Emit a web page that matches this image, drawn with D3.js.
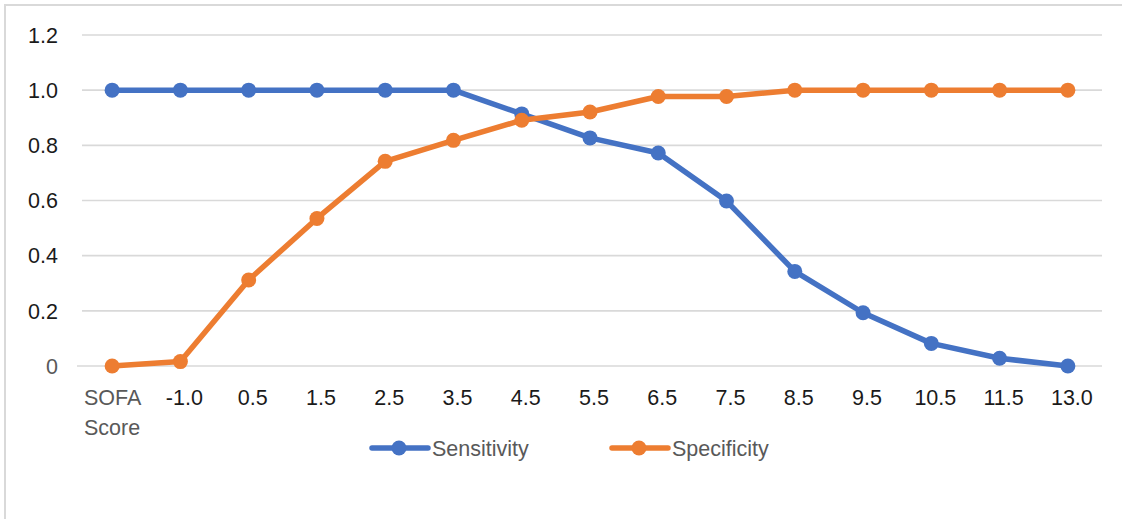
<!DOCTYPE html>
<html>
<head>
<meta charset="utf-8">
<script src="https://cdn.jsdelivr.net/npm/d3@7"></script>
<style>
html,body{margin:0;padding:0;background:#fff;}
svg{display:block;}
text{font-family:"Liberation Sans",Arial,sans-serif;}
</style>
</head>
<body>
<svg id="chart" width="1122" height="519"></svg>
<script>
const categories = ["SOFA Score","-1.0","0.5","1.5","2.5","3.5","4.5","5.5","6.5","7.5","8.5","9.5","10.5","11.5","13.0"];
const sensitivity = [1,1,1,1,1,1,0.914,0.827,0.772,0.598,0.343,0.193,0.082,0.028,0];
const specificity = [0,0.016,0.312,0.535,0.742,0.818,0.891,0.921,0.977,0.977,1,1,1,1,1];
const yTicks = [0,0.2,0.4,0.6,0.8,1.0,1.2];
const seriesNames = ["Sensitivity","Specificity"];
const colors = ["#4472C4","#ED7D31"];

const svg = d3.select("#chart");
const W = 1122, H = 519;

// outer border
svg.append("rect").attr("x",5).attr("y",5).attr("width",1140).attr("height",540)
  .attr("fill","none").attr("stroke","#d9d9d9").attr("stroke-width",2);

const x = d3.scaleBand().domain(categories).range([78,1102]).padding(0);
const y = d3.scaleLinear().domain([0,1.2]).range([366,35]);

// gridlines
svg.append("g").selectAll("line").data(yTicks.filter(d=>d>0)).join("line")
  .attr("x1",82).attr("x2",1102)
  .attr("y1",d=>y(d)).attr("y2",d=>y(d))
  .attr("stroke","#d9d9d9").attr("stroke-width",1.6);
// zero axis line
svg.append("line").attr("x1",77).attr("x2",1102).attr("y1",y(0)).attr("y2",y(0))
  .attr("stroke","#d9d9d9").attr("stroke-width",1.6);

// y labels
svg.append("g").selectAll("text").data(yTicks).join("text")
  .attr("x",58).attr("y",d=>y(d)+2)
  .attr("text-anchor","end").attr("dominant-baseline","middle")
  .attr("font-size",21.5)
  .attr("fill",d=>d===0?"#595959":"#1a1a1a")
  .text(d=>d===0?"0":d3.format(".1f")(d));

// x labels
const xl = svg.append("g");
categories.forEach((c,i)=>{
  const cx = x(c)+x.bandwidth()/2;
  if(i===0){
    const t = xl.append("text").attr("x",84).attr("y",399)
      .attr("font-size",21.5).attr("fill","#595959").attr("dominant-baseline","middle");
    const parts = c.split(" ");
    t.append("tspan").attr("x",84).attr("dy",0).text(parts[0]);
    t.append("tspan").attr("x",84).attr("dy",30).text(parts[1]);
  } else {
    xl.append("text").attr("x",cx+4).attr("y",399)
      .attr("text-anchor","middle").attr("dominant-baseline","middle")
      .attr("font-size",21.5).attr("fill","#1a1a1a").text(c);
  }
});

// series
const series = [sensitivity, specificity];
const line = d3.line().x((d,i)=>x(categories[i])+x.bandwidth()/2).y(d=>y(d));
series.forEach((s,k)=>{
  svg.append("path").datum(s).attr("d",line).attr("fill","none")
    .attr("stroke",colors[k]).attr("stroke-width",5.5)
    .attr("stroke-linejoin","round").attr("stroke-linecap","round");
  svg.append("g").selectAll("circle").data(s).join("circle")
    .attr("cx",(d,i)=>x(categories[i])+x.bandwidth()/2)
    .attr("cy",d=>y(d)).attr("r",7.5).attr("fill",colors[k]);
});

// legend
const legX = [372, 612];
seriesNames.forEach((n,k)=>{
  const g = svg.append("g").attr("transform",`translate(${legX[k]},448)`);
  g.append("line").attr("x1",0).attr("x2",56).attr("y1",0).attr("y2",0)
    .attr("stroke",colors[k]).attr("stroke-width",5.5).attr("stroke-linecap","round");
  g.append("circle").attr("cx",27).attr("cy",0).attr("r",7.5).attr("fill",colors[k]);
  g.append("text").attr("x",60).attr("y",2).attr("dominant-baseline","middle")
    .attr("font-size",21.5).attr("fill","#595959").text(n);
});
</script>
</body>
</html>
